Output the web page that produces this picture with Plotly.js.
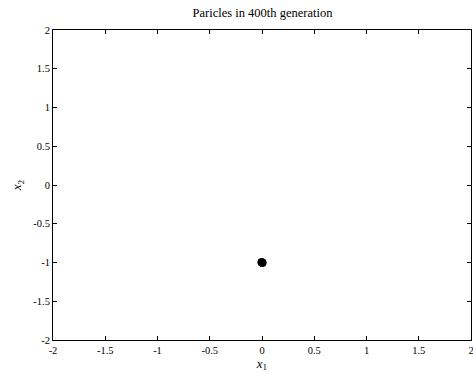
<!DOCTYPE html>
<html><head><meta charset="utf-8">
<script src="https://cdn.plot.ly/plotly-3.0.1.min.js"></script>
<style>html,body{margin:0;padding:0;background:#fff;}#plot{width:473px;height:374px;}</style>
</head><body><div id="plot"></div>
<script>
const particlesX = [0.0, 0.005, -0.005, 0.003, -0.002];
const particlesY = [-1.0, -1.003, -0.997, -1.004, -0.998];
const xTicks = [-2, -1.5, -1, -0.5, 0, 0.5, 1, 1.5, 2];
const yTicks = [-2, -1.5, -1, -0.5, 0, 0.5, 1, 1.5, 2];
const fontFam = '"Liberation Serif", "Times New Roman", serif';
const axisCommon = {
  range: [-2, 2], showgrid: false, zeroline: false,
  ticks: 'inside', ticklen: 4, tickcolor: '#000', tickwidth: 1,
  showline: true, linecolor: '#000', linewidth: 1, mirror: 'ticks',
  ticklabeloverflow: 'allow',
  tickfont: {family: fontFam, size: 10.5, color: '#000'}
};
Plotly.newPlot('plot', [{
  x: particlesX, y: particlesY, type: 'scatter', mode: 'markers',
  marker: {color: '#000', size: 8}, showlegend: false
}], {
  width: 473, height: 374,
  margin: {l: 53, r: 2, t: 30, b: 34},
  paper_bgcolor: '#fff', plot_bgcolor: '#fff',
  title: {text: 'Paricles in 400th generation', font: {family: fontFam, size: 12.5, color: '#000'}, x: 0.555, xanchor: 'center', y: 0.965, yanchor: 'middle'},
  xaxis: Object.assign({}, axisCommon, {tickvals: xTicks, ticktext: xTicks.map(String),
    title: {text: '<i>x</i><sub>1</sub>', font: {family: fontFam, size: 13, color: '#000'}, standoff: 3}}),
  yaxis: Object.assign({}, axisCommon, {tickvals: yTicks, ticktext: yTicks.map(String),
    title: {text: '<i>x</i><sub>2</sub>', font: {family: fontFam, size: 13, color: '#000'}, standoff: 8}})
}, {displayModeBar: false});
</script></body></html>
